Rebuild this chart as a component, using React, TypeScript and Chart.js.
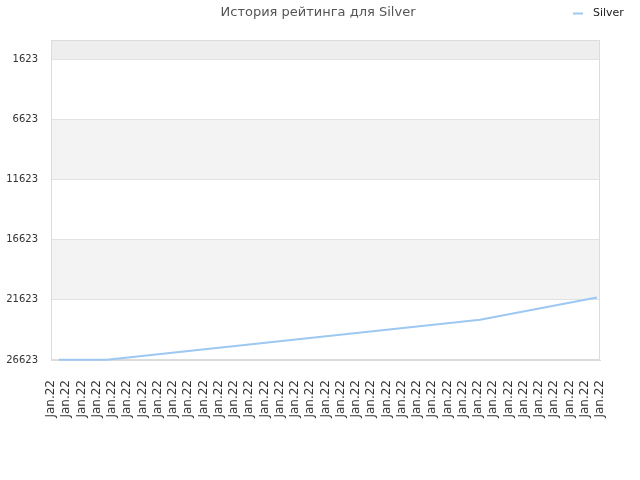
import { useRef, useEffect } from 'react';
import { Chart, registerables } from 'chart.js';

Chart.register(...registerables);

// Chart data
const chartTitle = 'История рейтинга для Silver';
const seriesName = 'Silver';
const xLabels = Array.from({ length: 37 }, () => 'Jan.22');
// position of each rating sample along the label axis (label index units)
const samplePos = [0.52, 3.67, 28.13, 35.8];
const ratingValues = [26600, 26600, 23270, 21430];
const yTicks = [1623, 6623, 11623, 16623, 21623, 26623];
const yMin = 40;
const yMax = 26623;

const FONT = '"DejaVu Sans", Verdana, sans-serif';
const LINE_COLOR = '#9cc8f2';

// alternating bands behind the plot, the outer frame, title and legend
const decorPlugin = {
  id: 'decor',
  beforeDraw(chart: any) {
    const { ctx, chartArea } = chart;
    const y = chart.scales.y;
    ctx.save();
    ctx.fillStyle = '#eeeeee';
    ctx.fillRect(chartArea.left, chartArea.top, chartArea.width, y.getPixelForValue(yTicks[0]) - chartArea.top);
    ctx.fillStyle = '#f3f3f3';
    for (let k = 1; k < yTicks.length - 1; k += 2) {
      const a = y.getPixelForValue(yTicks[k]);
      const b = y.getPixelForValue(yTicks[k + 1]);
      ctx.fillRect(chartArea.left, a, chartArea.width, b - a);
    }
    ctx.restore();
  },
  beforeDatasetsDraw(chart: any) {
    const { ctx, chartArea } = chart;
    ctx.save();
    ctx.strokeStyle = '#dcdcdc';
    ctx.lineWidth = 1;
    ctx.strokeRect(chartArea.left + 0.5, chartArea.top + 0.5, chartArea.width - 1, chartArea.height - 1);
    ctx.restore();
  },
  afterDraw(chart: any) {
    const { ctx } = chart;
    ctx.save();
    // title
    ctx.fillStyle = '#555';
    ctx.font = `13px ${FONT}`;
    ctx.textBaseline = 'middle';
    ctx.textAlign = 'center';
    ctx.fillText(chartTitle, 318, 13);
    // legend, top right
    ctx.strokeStyle = LINE_COLOR;
    ctx.lineWidth = 2;
    ctx.beginPath();
    ctx.moveTo(573, 13.5);
    ctx.lineTo(583, 13.5);
    ctx.stroke();
    ctx.fillStyle = '#222';
    ctx.font = `11px ${FONT}`;
    ctx.textAlign = 'left';
    ctx.fillText(seriesName, 593, 13);
    ctx.restore();
  }
};

export default function App() {
  const chartRef = useRef<HTMLCanvasElement>(null);
  const chartInstance = useRef<Chart | null>(null);

  useEffect(() => {
    document.body.style.margin = '0';
    if (!chartRef.current) return;
    if (chartInstance.current) {
      chartInstance.current.destroy();
    }
    const ctx = chartRef.current.getContext('2d');
    if (!ctx) return;

    chartInstance.current = new Chart(ctx, {
      type: 'line',
      data: {
        datasets: [
          {
            label: seriesName,
            data: samplePos.map((x, i) => ({ x, y: ratingValues[i] })),
            borderColor: LINE_COLOR,
            backgroundColor: LINE_COLOR,
            borderWidth: 2,
            pointRadius: 0,
            tension: 0,
            fill: false,
            clip: 4
          }
        ]
      },
      options: {
        responsive: false,
        animation: false,
        layout: {
          padding: { left: 0, right: 40, top: 40, bottom: 0 }
        },
        plugins: {
          legend: { display: false },
          tooltip: { enabled: false },
          title: { display: false }
        },
        scales: {
          x: {
            type: 'linear',
            min: 0,
            max: xLabels.length - 1,
            afterBuildTicks: (axis: any) => {
              axis.ticks = xLabels.map((_, i) => ({ value: i }));
            },
            afterFit: (axis: any) => {
              axis.height = 120;
            },
            grid: { display: false },
            border: { display: true, color: '#dcdcdc' },
            ticks: {
              autoSkip: false,
              minRotation: 90,
              maxRotation: 90,
              padding: 12,
              color: '#333',
              font: { family: FONT, size: 12 },
              callback: (_v: any, i: number) => xLabels[i]
            }
          },
          y: {
            reverse: true,
            min: yMin,
            max: yMax,
            afterBuildTicks: (axis: any) => {
              axis.ticks = yTicks.map(value => ({ value }));
            },
            afterFit: (axis: any) => {
              axis.width = 51;
            },
            grid: { color: '#e2e2e2', drawTicks: false },
            border: { display: true, color: '#dcdcdc' },
            ticks: {
              padding: 13,
              color: '#333',
              font: { family: FONT, size: 10 },
              callback: (v: any) => String(v)
            }
          }
        }
      },
      plugins: [decorPlugin]
    });

    return () => {
      if (chartInstance.current) {
        chartInstance.current.destroy();
        chartInstance.current = null;
      }
    };
  }, []);

  return (
    <div style={{ width: 640, height: 480 }}>
      <canvas ref={chartRef} width={640} height={480} />
    </div>
  );
}
